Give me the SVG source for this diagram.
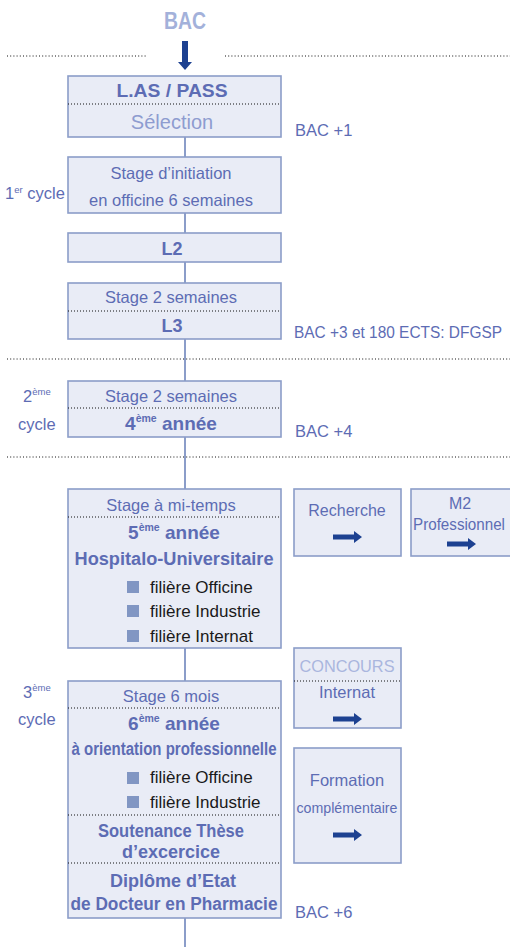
<svg xmlns="http://www.w3.org/2000/svg" width="510" height="947" viewBox="0 0 510 947">
<defs>
<style>
.box{fill:#e9ecf6;stroke:#8b9dc9;stroke-width:1.6}
.div{stroke:#111;stroke-width:1;stroke-dasharray:1 2;fill:none}
.sep{stroke:#111;stroke-width:1;stroke-dasharray:1 2.2;fill:none}
.con{stroke:#8b9dc9;stroke-width:2;fill:none}
text{font-family:"Liberation Sans",Arial,sans-serif;fill:#5d6cb4}
.t{font-size:16.5px;text-anchor:middle}
.b{font-size:18px;font-weight:bold;text-anchor:middle}
.l{font-size:16.5px}
.k{font-size:17px;fill:#1a1a1a}
.sup{font-size:9.5px}
.bul{fill:#8196c3}
.arr{fill:#1d4191}
</style>
<path id="ra" d="M0,-2.5 H21 V-6 L29,0 L21,6 V2.5 H0 Z"/>
</defs>

<g id="separators">
<line class="sep" x1="7" y1="56" x2="147" y2="56"/>
<line class="sep" x1="225" y1="56" x2="510" y2="56"/>
<line class="sep" x1="7" y1="359" x2="510" y2="359"/>
<line class="sep" x1="7" y1="457" x2="510" y2="457"/>
</g>

<g id="connectors">
<line class="con" x1="185" y1="137" x2="185" y2="157"/>
<line class="con" x1="185" y1="213" x2="185" y2="233"/>
<line class="con" x1="185" y1="262" x2="185" y2="283"/>
<line class="con" x1="185" y1="339" x2="185" y2="381"/>
<line class="con" x1="185" y1="437" x2="185" y2="489"/>
<line class="con" x1="185" y1="648" x2="185" y2="681"/>
<line class="con" x1="185" y1="918" x2="185" y2="947"/>
<path class="arr" d="M182,41 H188 V62 H192 L185,70 L178,62 H182 Z"/>
</g>

<g id="bac">
<text x="185" y="29" textLength="42" lengthAdjust="spacingAndGlyphs" style="font-size:23px;font-weight:bold;fill:#a3b1da;text-anchor:middle">BAC</text>
</g>

<g id="labels">
<text class="l" x="295" y="136">BAC +1</text>
<text class="l" x="294" y="338" style="font-size:16px" textLength="208" lengthAdjust="spacingAndGlyphs">BAC +3 et 180 ECTS: DFGSP</text>
<text class="l" x="295" y="437">BAC +4</text>
<text class="l" x="295" y="918">BAC +6</text>
<text class="l" x="5" y="199">1<tspan class="sup" dy="-6">er</tspan><tspan dy="6"> cycle</tspan></text>
<text class="l" x="23" y="402">2<tspan class="sup" dy="-7">ème</tspan></text>
<text class="l" x="18" y="430">cycle</text>
<text class="l" x="23" y="698">3<tspan class="sup" dy="-7">ème</tspan></text>
<text class="l" x="18" y="725">cycle</text>
</g>

<g id="n-pass">
<rect class="box" x="68" y="76" width="213" height="61"/>
<line class="div" x1="68" y1="104" x2="281" y2="104"/>
<text class="b" x="172" y="97" textLength="111" lengthAdjust="spacingAndGlyphs">L.AS / PASS</text>
<text class="t" x="172" y="129" style="font-size:20px;fill:#8e9cd0">Sélection</text>
</g>

<g id="n-initiation">
<rect class="box" x="68" y="157" width="213" height="56"/>
<text class="t" x="171" y="179">Stage d’initiation</text>
<text class="t" x="171" y="206">en officine 6 semaines</text>
</g>

<g id="n-l2">
<rect class="box" x="68" y="233" width="213" height="29"/>
<text class="b" x="172" y="255">L2</text>
</g>

<g id="n-l3">
<rect class="box" x="68" y="283" width="213" height="56"/>
<line class="div" x1="68" y1="311" x2="281" y2="311"/>
<text class="t" x="171" y="303">Stage 2 semaines</text>
<text class="b" x="172" y="332">L3</text>
</g>

<g id="n-4">
<rect class="box" x="68" y="381" width="213" height="56"/>
<line class="div" x1="68" y1="408" x2="281" y2="408"/>
<text class="t" x="171" y="402">Stage 2 semaines</text>
<text class="b" x="171" y="430" style="font-size:19px">4<tspan class="sup" style="font-size:10.5px" dy="-8">ème</tspan><tspan dy="8"> année</tspan></text>
</g>

<g id="n-5">
<rect class="box" x="68" y="489" width="213" height="159"/>
<line class="div" x1="68" y1="517" x2="281" y2="517"/>
<text class="t" x="171" y="511">Stage à mi-temps</text>
<text class="b" x="174" y="539" style="font-size:19px">5<tspan class="sup" style="font-size:10.5px" dy="-8">ème</tspan><tspan dy="8"> année</tspan></text>
<text class="b" x="174" y="565" textLength="199" lengthAdjust="spacingAndGlyphs">Hospitalo-Universitaire</text>
<rect class="bul" x="127" y="581" width="12" height="12"/>
<text class="k" x="150" y="593">filière Officine</text>
<rect class="bul" x="127" y="605" width="12" height="12"/>
<text class="k" x="150" y="617">filière Industrie</text>
<rect class="bul" x="127" y="630" width="12" height="12"/>
<text class="k" x="150" y="642">filière Internat</text>
</g>

<g id="n-recherche">
<rect class="box" x="294" y="489" width="107" height="67"/>
<text class="t" x="347" y="516" style="font-size:16px">Recherche</text>
<use href="#ra" class="arr" x="333" y="537"/>
</g>

<g id="n-m2">
<rect class="box" x="411" y="489" width="104" height="67"/>
<text class="t" x="460" y="509" style="font-size:16px">M2</text>
<text class="t" x="459" y="530" style="font-size:16px" textLength="92" lengthAdjust="spacingAndGlyphs">Professionnel</text>
<use href="#ra" class="arr" x="447" y="544"/>
</g>

<g id="n-concours">
<rect class="box" x="294" y="648" width="107" height="80"/>
<line class="div" x1="294" y1="681" x2="401" y2="681"/>
<text class="t" x="347" y="672" style="fill:#aab6de" textLength="95" lengthAdjust="spacingAndGlyphs">CONCOURS</text>
<text class="t" x="347" y="698">Internat</text>
<use href="#ra" class="arr" x="333" y="719"/>
</g>

<g id="n-formation">
<rect class="box" x="294" y="748" width="107" height="115"/>
<text class="t" x="347" y="786">Formation</text>
<text class="t" x="347" y="813" style="font-size:15px" textLength="101" lengthAdjust="spacingAndGlyphs">complémentaire</text>
<use href="#ra" class="arr" x="333" y="835"/>
</g>

<g id="n-6">
<rect class="box" x="68" y="681" width="213" height="237"/>
<line class="div" x1="68" y1="708" x2="281" y2="708"/>
<line class="div" x1="68" y1="815" x2="281" y2="815"/>
<line class="div" x1="68" y1="863" x2="281" y2="863"/>
<text class="t" x="171" y="702">Stage 6 mois</text>
<text class="b" x="174" y="730" style="font-size:19px">6<tspan class="sup" style="font-size:10.5px" dy="-8">ème</tspan><tspan dy="8"> année</tspan></text>
<text class="b" x="174" y="755" textLength="205" lengthAdjust="spacingAndGlyphs">à orientation professionnelle</text>
<rect class="bul" x="127" y="772" width="12" height="12"/>
<text class="k" x="150" y="783">filière Officine</text>
<rect class="bul" x="127" y="796" width="12" height="12"/>
<text class="k" x="150" y="808">filière Industrie</text>
<text class="b" x="171" y="837" textLength="146" lengthAdjust="spacingAndGlyphs">Soutenance Thèse</text>
<text class="b" x="171" y="858">d’excercice</text>
<text class="b" x="173" y="887">Diplôme d’Etat</text>
<text class="b" x="174" y="910" textLength="207" lengthAdjust="spacingAndGlyphs">de Docteur en Pharmacie</text>
</g>
</svg>
